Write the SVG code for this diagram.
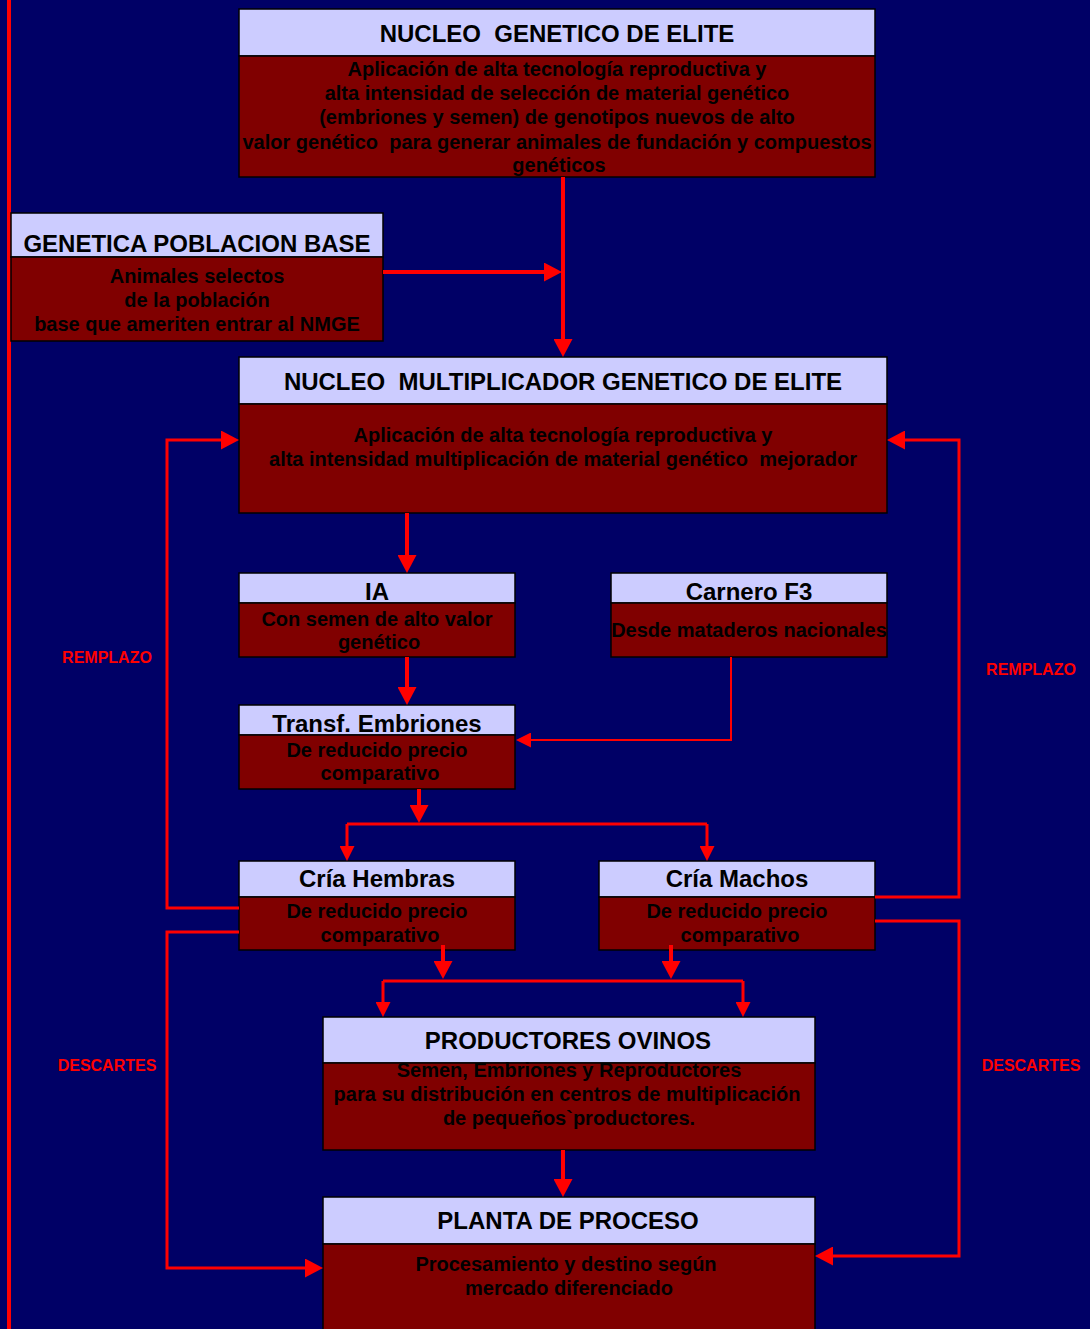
<svg xmlns="http://www.w3.org/2000/svg" width="1090" height="1329" viewBox="0 0 1090 1329">
<style>
.hdr{fill:#CCCCFF;stroke:#000;stroke-width:1.5}
.bdy{fill:#800000;stroke:#000;stroke-width:1.5}
.t{font-family:"Liberation Sans",Arial,sans-serif;font-weight:bold;text-anchor:middle;fill:#000}
.tt{font-size:24px}
.bt{font-size:20px}
.lbl{font-family:"Liberation Sans",Arial,sans-serif;font-weight:bold;text-anchor:middle;font-size:16px;fill:#FF0000}
.c{fill:none;stroke:#FF0000;stroke-width:4}
.c3{stroke-width:3}
.c2{stroke-width:2}
</style>
<defs>
<marker id="big" markerUnits="userSpaceOnUse" markerWidth="18" markerHeight="19" refX="10" refY="9.5" orient="auto">
<path d="M0,0 L18,9.5 L0,19 Z" fill="#FF0000"/>
</marker>
<marker id="small" markerUnits="userSpaceOnUse" markerWidth="15" markerHeight="15" refX="8" refY="7.5" orient="auto">
<path d="M0,0 L15,7.5 L0,15 Z" fill="#FF0000"/>
</marker>
</defs>
<rect width="1090" height="1329" fill="#000066"/>
<line x1="9" y1="0" x2="9" y2="1329" stroke="#FF0000" stroke-width="4"/>

<g id="nucleo-genetico">
<rect class="hdr" x="239" y="9" width="636" height="47"/>
<rect class="bdy" x="239" y="56" width="636" height="121"/>
<text class="t tt" x="557" y="42" xml:space="preserve">NUCLEO  GENETICO DE ELITE</text>
<text class="t bt" x="557" y="76">Aplicación de alta tecnología reproductiva y</text>
<text class="t bt" x="557" y="100">alta intensidad de selección de material genético</text>
<text class="t bt" x="557" y="124">(embriones y semen) de genotipos nuevos de alto</text>
<text class="t bt" x="557" y="149" xml:space="preserve">valor genético  para generar animales de fundación y compuestos</text>
<text class="t bt" x="559" y="172">genéticos</text>
</g>

<g id="genetica-poblacion-base">
<rect class="hdr" x="11" y="213" width="372" height="44"/>
<rect class="bdy" x="11" y="257" width="372" height="84"/>
<text class="t tt" x="197" y="252">GENETICA POBLACION BASE</text>
<text class="t bt" x="197" y="283">Animales selectos</text>
<text class="t bt" x="197" y="307">de la población</text>
<text class="t bt" x="197" y="331">base que ameriten entrar al NMGE</text>
</g>

<g id="nucleo-multiplicador">
<rect class="hdr" x="239" y="357" width="648" height="47"/>
<rect class="bdy" x="239" y="404" width="648" height="109"/>
<text class="t tt" x="563" y="390" xml:space="preserve">NUCLEO  MULTIPLICADOR GENETICO DE ELITE</text>
<text class="t bt" x="563" y="442">Aplicación de alta tecnología reproductiva y</text>
<text class="t bt" x="563" y="466" xml:space="preserve">alta intensidad multiplicación de material genético  mejorador</text>
</g>

<g id="ia">
<rect class="hdr" x="239" y="573" width="276" height="30"/>
<rect class="bdy" x="239" y="603" width="276" height="54"/>
<text class="t tt" x="377" y="600">IA</text>
<text class="t bt" x="377" y="626">Con semen de alto valor</text>
<text class="t bt" x="379" y="649">genético</text>
</g>

<g id="carnero-f3">
<rect class="hdr" x="611" y="573" width="276" height="30"/>
<rect class="bdy" x="611" y="603" width="276" height="54"/>
<text class="t tt" x="749" y="600">Carnero F3</text>
<text class="t bt" x="749" y="637">Desde mataderos nacionales</text>
</g>

<g id="transf-embriones">
<rect class="hdr" x="239" y="705" width="276" height="30"/>
<rect class="bdy" x="239" y="735" width="276" height="54"/>
<text class="t tt" x="377" y="732">Transf. Embriones</text>
<text class="t bt" x="377" y="757">De reducido precio</text>
<text class="t bt" x="380" y="780">comparativo</text>
</g>

<g id="cria-hembras">
<rect class="hdr" x="239" y="861" width="276" height="36"/>
<rect class="bdy" x="239" y="897" width="276" height="53"/>
<text class="t tt" x="377" y="887">Cría Hembras</text>
<text class="t bt" x="377" y="918">De reducido precio</text>
<text class="t bt" x="380" y="942">comparativo</text>
</g>

<g id="cria-machos">
<rect class="hdr" x="599" y="861" width="276" height="36"/>
<rect class="bdy" x="599" y="897" width="276" height="53"/>
<text class="t tt" x="737" y="887">Cría Machos</text>
<text class="t bt" x="737" y="918">De reducido precio</text>
<text class="t bt" x="740" y="942">comparativo</text>
</g>

<g id="productores-ovinos">
<rect class="hdr" x="323" y="1017" width="492" height="46"/>
<rect class="bdy" x="323" y="1063" width="492" height="87"/>
<text class="t tt" x="568" y="1049">PRODUCTORES OVINOS</text>
<text class="t bt" x="569" y="1077">Semen, Embriones y Reproductores</text>
<text class="t bt" x="567" y="1101">para su distribución en centros de multiplicación</text>
<text class="t bt" x="569" y="1125">de pequeños`productores.</text>
</g>

<g id="planta-de-proceso">
<rect class="hdr" x="323" y="1197" width="492" height="47"/>
<rect class="bdy" x="323" y="1244" width="492" height="100"/>
<text class="t tt" x="568" y="1229">PLANTA DE PROCESO</text>
<text class="t bt" x="566" y="1271">Procesamiento y destino según</text>
<text class="t bt" x="569" y="1295">mercado diferenciado</text>
</g>

<g id="connectors">
<path class="c" d="M563,177 V349" marker-end="url(#big)"/>
<path class="c" d="M383,272 H554" marker-end="url(#big)"/>
<path class="c" d="M407,513 V565" marker-end="url(#big)"/>
<path class="c" d="M407,657 V697" marker-end="url(#big)"/>
<path class="c c2" d="M731,657 V740 H523" marker-end="url(#small)"/>
<path class="c" d="M419,789 V815" marker-end="url(#big)"/>
<path class="c c3" d="M347,824 H707"/>
<path class="c c3" d="M347,824 V854" marker-end="url(#small)"/>
<path class="c c3" d="M707,824 V854" marker-end="url(#small)"/>
<path class="c" d="M443,945 V971" marker-end="url(#big)"/>
<path class="c" d="M671,945 V971" marker-end="url(#big)"/>
<path class="c c3" d="M383,981 H743"/>
<path class="c c3" d="M383,981 V1010" marker-end="url(#small)"/>
<path class="c c3" d="M743,981 V1010" marker-end="url(#small)"/>
<path class="c" d="M563,1150 V1189" marker-end="url(#big)"/>
<path class="c c3" d="M239,908 H167 V440 H231" marker-end="url(#big)"/>
<path class="c c3" d="M875,897 H959 V440 H895" marker-end="url(#big)"/>
<path class="c c3" d="M239,932 H167 V1268 H315" marker-end="url(#big)"/>
<path class="c c3" d="M875,921 H959 V1256 H823" marker-end="url(#big)"/>
</g>

<g id="labels">
<text class="lbl" x="107" y="663">REMPLAZO</text>
<text class="lbl" x="1031" y="675">REMPLAZO</text>
<text class="lbl" x="107" y="1071">DESCARTES</text>
<text class="lbl" x="1031" y="1071">DESCARTES</text>
</g>
</svg>
